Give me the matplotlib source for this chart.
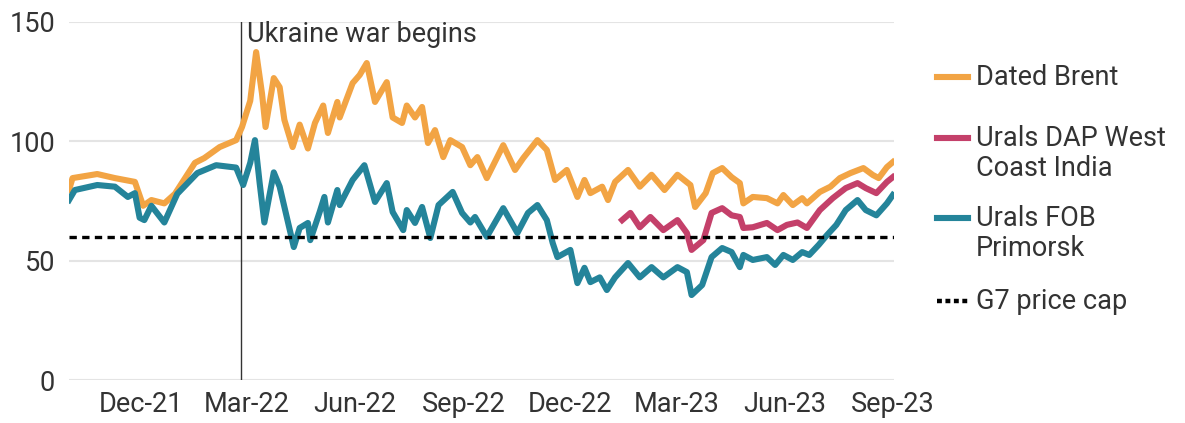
import numpy as np
import pandas as pd
import matplotlib
matplotlib.use('Agg')
import matplotlib.pyplot as plt
import matplotlib.dates as mdates
from matplotlib.lines import Line2D

plt.rcParams['font.family'] = ['Roboto', 'DejaVu Sans']

# values ($/bbl)
brent_dates = ['2021-10-01', '2021-10-04', '2021-10-25', '2021-11-09', '2021-11-26', '2021-12-03',
               '2021-12-10', '2021-12-21', '2021-12-30', '2022-01-16', '2022-01-24', '2022-02-06',
               '2022-02-20', '2022-02-25', '2022-03-04', '2022-03-09', '2022-03-14', '2022-03-17',
               '2022-03-24', '2022-03-29', '2022-04-02', '2022-04-09', '2022-04-15', '2022-04-22',
               '2022-04-28', '2022-05-05', '2022-05-09', '2022-05-17', '2022-05-19', '2022-05-30',
               '2022-06-05', '2022-06-11', '2022-06-18', '2022-06-28', '2022-07-03', '2022-07-11',
               '2022-07-15', '2022-07-22', '2022-07-28', '2022-08-02', '2022-08-08', '2022-08-15',
               '2022-08-21', '2022-08-31', '2022-09-07', '2022-09-13', '2022-09-21', '2022-10-05',
               '2022-10-15', '2022-10-22', '2022-11-03', '2022-11-11', '2022-11-18', '2022-11-28',
               '2022-12-07', '2022-12-13', '2022-12-18', '2022-12-28', '2023-01-02', '2023-01-08',
               '2023-01-19', '2023-01-29', '2023-02-08', '2023-02-19', '2023-03-02', '2023-03-13',
               '2023-03-17', '2023-03-26', '2023-04-01', '2023-04-09', '2023-04-17', '2023-04-24',
               '2023-04-27', '2023-05-05', '2023-05-17', '2023-05-26', '2023-05-31', '2023-06-08',
               '2023-06-16', '2023-06-20', '2023-07-01', '2023-07-10', '2023-07-18', '2023-07-27',
               '2023-08-07', '2023-08-15', '2023-08-20', '2023-08-27', '2023-09-01']
brent = [79.6, 84.6, 86.3, 84.6, 83.0, 73.0, 75.4, 74.0, 78.0, 91.0, 93.0, 97.6,
         100.5, 106.0, 117.0, 137.4, 120.0, 106.0, 126.5, 122.7, 109.0, 97.6, 107.0, 97.0,
         107.7, 115.0, 103.5, 116.5, 110.0, 124.4, 127.8, 132.8, 116.5, 124.8, 110.0, 107.7,
         115.0, 110.0, 114.4, 99.3, 104.7, 93.4, 100.5, 97.6, 90.0, 93.4, 84.6, 98.4,
         88.0, 93.0, 100.5, 96.4, 83.8, 88.0, 76.7, 83.8, 78.3, 81.0, 75.4, 83.0,
         88.0, 81.0, 86.0, 79.6, 86.0, 81.7, 72.5, 78.3, 86.7, 88.8, 85.0, 82.5,
         74.0, 76.7, 76.2, 74.0, 77.5, 73.3, 76.2, 74.0, 78.8, 81.0, 84.6, 86.7,
         88.8, 85.9, 84.6, 89.2, 91.3]

fob_dates = ['2021-10-01', '2021-10-06', '2021-10-25', '2021-11-09', '2021-11-20', '2021-11-26',
             '2021-11-30', '2021-12-04', '2021-12-10', '2021-12-21', '2022-01-01', '2022-01-18',
             '2022-02-03', '2022-02-20', '2022-02-26', '2022-03-04', '2022-03-08', '2022-03-12',
             '2022-03-16', '2022-03-24', '2022-03-29', '2022-04-10', '2022-04-15', '2022-04-22',
             '2022-04-24', '2022-05-02', '2022-05-06', '2022-05-09', '2022-05-17', '2022-05-19',
             '2022-05-30', '2022-06-09', '2022-06-18', '2022-06-28', '2022-07-03', '2022-07-12',
             '2022-07-15', '2022-07-22', '2022-07-28', '2022-08-04', '2022-08-11', '2022-08-23',
             '2022-08-31', '2022-09-07', '2022-09-11', '2022-09-21', '2022-10-05', '2022-10-17',
             '2022-10-26', '2022-11-03', '2022-11-11', '2022-11-16', '2022-11-20', '2022-12-01',
             '2022-12-07', '2022-12-13', '2022-12-18', '2022-12-26', '2023-01-01', '2023-01-08',
             '2023-01-19', '2023-01-29', '2023-02-08', '2023-02-18', '2023-03-02', '2023-03-10',
             '2023-03-14', '2023-03-23', '2023-03-31', '2023-04-09', '2023-04-17', '2023-04-24',
             '2023-04-27', '2023-05-05', '2023-05-17', '2023-05-24', '2023-05-31', '2023-06-08',
             '2023-06-16', '2023-06-22', '2023-06-30', '2023-07-07', '2023-07-15', '2023-07-23',
             '2023-08-02', '2023-08-09', '2023-08-18', '2023-08-27', '2023-09-01']
fob = [75.4, 79.6, 81.7, 81.0, 76.7, 78.3, 68.0, 67.0, 73.0, 66.0, 78.0, 86.7,
       90.0, 89.0, 81.7, 91.0, 100.5, 82.5, 66.0, 87.0, 81.0, 55.7, 63.7, 65.8,
       58.6, 70.4, 76.7, 66.0, 79.6, 73.3, 83.8, 90.0, 74.6, 82.5, 70.4, 62.8,
       71.2, 65.8, 72.5, 59.5, 73.3, 78.8, 70.0, 66.0, 68.3, 60.0, 72.0, 61.6,
       70.0, 73.3, 67.0, 57.4, 51.5, 54.5, 40.6, 47.0, 41.0, 43.0, 37.7, 43.0,
       49.0, 43.0, 47.3, 43.0, 47.3, 45.2, 35.6, 39.8, 51.5, 55.3, 53.6, 47.3,
       52.4, 50.3, 51.5, 48.2, 52.4, 50.3, 53.6, 52.4, 56.6, 60.7, 65.0, 71.2,
       75.4, 71.2, 69.0, 74.0, 77.5]

dap_dates = ['2023-01-14', '2023-01-21', '2023-01-29', '2023-02-07', '2023-02-18', '2023-03-02',
             '2023-03-10', '2023-03-14', '2023-03-24', '2023-03-31', '2023-04-09', '2023-04-17',
             '2023-04-24', '2023-04-27', '2023-05-05', '2023-05-17', '2023-05-26', '2023-06-03',
             '2023-06-12', '2023-06-20', '2023-07-01', '2023-07-12', '2023-07-23', '2023-08-02',
             '2023-08-09', '2023-08-18', '2023-08-27', '2023-09-01']
dap = [67.0, 70.0, 64.0, 68.3, 62.8, 67.0, 61.6, 54.5, 58.6, 70.0, 72.0, 69.0,
       68.3, 63.7, 64.0, 65.8, 62.8, 65.0, 66.0, 63.7, 71.2, 76.2, 80.4, 82.5,
       80.4, 78.3, 83.0, 85.0]

price_cap = 60
war_start = '2022-02-24'
tick_months = ['2021-12-01', '2022-03-01', '2022-06-01', '2022-09-01', '2022-12-01',
               '2023-03-01', '2023-06-01', '2023-09-01']

c_brent = '#F2A444'
c_dap = '#C4406A'
c_fob = '#24849A'
txt = '#333333'
fs = 19.5

fig = plt.figure(figsize=(11.85, 4.23), dpi=100)
ax = fig.add_axes([69 / 1185, 43 / 423, (894 - 69) / 1185, (380 - 22) / 423])

lw = 4.4
ax.plot(pd.to_datetime(brent_dates), brent, color=c_brent, lw=lw, solid_joinstyle='round', zorder=3)
ax.plot(pd.to_datetime(dap_dates), dap, color=c_dap, lw=lw, solid_joinstyle='round', zorder=3)
ax.plot(pd.to_datetime(fob_dates), fob, color=c_fob, lw=lw, solid_joinstyle='round', zorder=3)
ax.axhline(price_cap, color='black', lw=2.4, ls=(0, (2.2, 1.6)), zorder=4)

ax.axvline(pd.Timestamp(war_start), color=txt, lw=1, zorder=2)
ax.text(pd.Timestamp(war_start) + pd.Timedelta(days=5), 150.5, 'Ukraine war begins',
        ha='left', va='top', fontsize=fs, color=txt)

ax.set_xlim(pd.Timestamp('2021-10-01'), pd.Timestamp('2023-09-02'))
ax.set_ylim(0, 150)
ax.set_yticks([0, 50, 100, 150])
ax.set_xticks(pd.to_datetime(tick_months))
ax.xaxis.set_major_formatter(mdates.DateFormatter('%b-%y'))
ax.tick_params(length=0, labelsize=fs, labelcolor=txt)
ax.tick_params(axis='y', pad=10)
ax.tick_params(axis='x', pad=8)
ax.grid(axis='y', color='#e4e4e4', lw=1.5)
ax.set_axisbelow(True)
for s in ax.spines.values():
    s.set_visible(False)

# legend on the right, handles aligned with the first text line
entries = [('Dated Brent', c_brent, '-', 77),
           ('Urals DAP West\nCoast India', c_dap, '-', 138),
           ('Urals FOB\nPrimorsk', c_fob, '-', 218),
           ('G7 price cap', 'black', (0, (1.1, 0.8)), 301)]
for label, col, ls, ypx in entries:
    yf = 1 - ypx / 423
    fig.add_artist(Line2D([937 / 1185, 968 / 1185], [yf, yf], color=col, lw=4.4 if ls == '-' else 3.2,
                          ls=ls, transform=fig.transFigure))
    fig.text(976 / 1185, yf + 13 / 423, label, ha='left', va='top', fontsize=fs, color=txt,
             linespacing=1.15)

fig.savefig('out.png', dpi=100)
